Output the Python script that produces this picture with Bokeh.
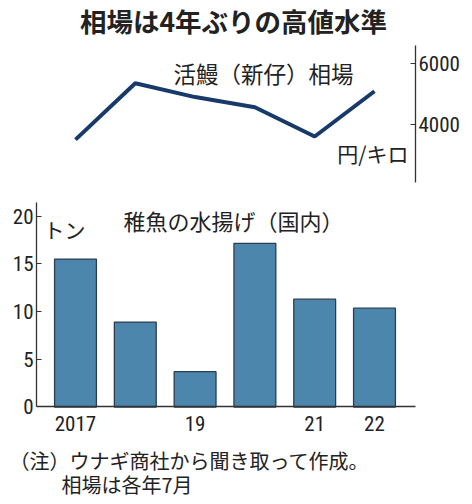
from bokeh.plotting import figure
from bokeh.models import Range1d, LinearAxis, FixedTicker, Label
from bokeh.embed import file_html
from bokeh.resources import INLINE

# ---- data ----
years = [2017, 2018, 2019, 2020, 2021, 2022]
catch_tons = [15.5, 8.9, 3.7, 17.15, 11.3, 10.35]          # 稚魚の水揚げ（国内）, トン
price_yen = [3520, 5350, 4900, 4570, 3620, 5090]          # 活鰻（新仔）相場, 円/キロ
x_ticks = [2017, 2019, 2021, 2022]
x_tick_labels = {2017: "2017", 2019: "19", 2021: "21", 2022: "22"}
catch_ticks = [0, 5, 10, 15, 20]
price_ticks = [4000, 6000]

title_text = "相場は4年ぶりの高値水準"
price_title = "活鰻（新仔）相場"
price_unit = "円/キロ"
catch_title = "稚魚の水揚げ（国内）"
catch_unit = "トン"
note1 = "（注）ウナギ商社から聞き取って作成。"
note2 = "相場は各年7月"

JP = "Noto Sans CJK JP"
NUM = "Roboto Condensed, Roboto"
TXT = "#222222"
AX = "#333333"

# plot extents (data units) - the frame covers the whole canvas,
# axes are fixed at their positions so every text lies inside the frame
X0, X1 = 2015.746, 2023.639          # canvas left / right
XA0, XA1 = 2016.348, 2022.686        # axis extent (left axis / right axis)
Y0, Y1 = -10.215, 42.588             # catch range over canvas height
P0, P1 = -8328, 8036                 # price range over canvas height

p = figure(width=472, height=504, output_backend="svg", toolbar_location=None,
           x_range=Range1d(X0, X1), y_range=Range1d(Y0, Y1),
           min_border_left=0, min_border_right=0, min_border_top=0,
           min_border_bottom=0)
p.extra_y_ranges = {"price": Range1d(P0, P1)}
p.outline_line_color = None
p.xgrid.visible = False
p.ygrid.visible = False
p.background_fill_color = "white"
p.border_fill_color = "white"

# bars
p.vbar(x=years, top=catch_tons, bottom=0, width=0.70,
       fill_color="#4d86ad", line_color="#2b3e50", line_width=1.3)

# line
p.line(x=years, y=price_yen, y_range_name="price",
       line_width=4, line_color="#173a6b")

def style_axis(a):
    a.minor_tick_line_color = None
    a.axis_line_color = AX
    a.axis_line_width = 1.3
    a.major_tick_line_color = AX
    a.major_label_text_font = NUM
    a.major_label_text_font_size = "21px"
    a.major_label_text_color = TXT

# left axis (catch)
ya = p.yaxis[0]
style_axis(ya)
ya.fixed_location = XA0
ya.bounds = (0, 21.46)
ya.ticker = FixedTicker(ticks=catch_ticks)
ya.major_tick_in = 5
ya.major_tick_out = 0
ya.major_label_standoff = 3

# bottom axis
xa = p.xaxis[0]
style_axis(xa)
xa.fixed_location = 0
xa.bounds = (XA0, XA1)
xa.ticker = FixedTicker(ticks=x_ticks)
xa.major_label_overrides = x_tick_labels
xa.major_tick_line_color = None
xa.major_label_standoff = 3

# right axis (price)
ra = LinearAxis(y_range_name="price", bounds=(2136, 6575),
                ticker=FixedTicker(ticks=price_ticks))
style_axis(ra)
ra.fixed_location = XA1
ra.major_tick_in = 5
ra.major_tick_out = 0
ra.major_label_standoff = 3
p.add_layout(ra, "right")

def lab(x, y, text, size, align="left", bold=False):
    p.add_layout(Label(x=x, y=y, text=text, text_font=JP, text_font_size=size,
                       text_align=align, text_baseline="middle", text_color=TXT,
                       text_font_style="bold" if bold else "normal"))

lab(2019.642, 40.45, title_text, "26.5px", align="center", bold=True)
lab(2018.639, 35.04, price_title, "22.5px")
lab(2022.569, 26.66, price_unit, "21px", align="right")
lab(2017.803, 19.54, catch_title, "22px")
lab(2016.465, 18.70, catch_unit, "21px")
lab(2015.896, -5.65, note1, "20px")
lab(2016.766, -8.12, note2, "20px")

open("out.html", "w").write(file_html(p, INLINE))
